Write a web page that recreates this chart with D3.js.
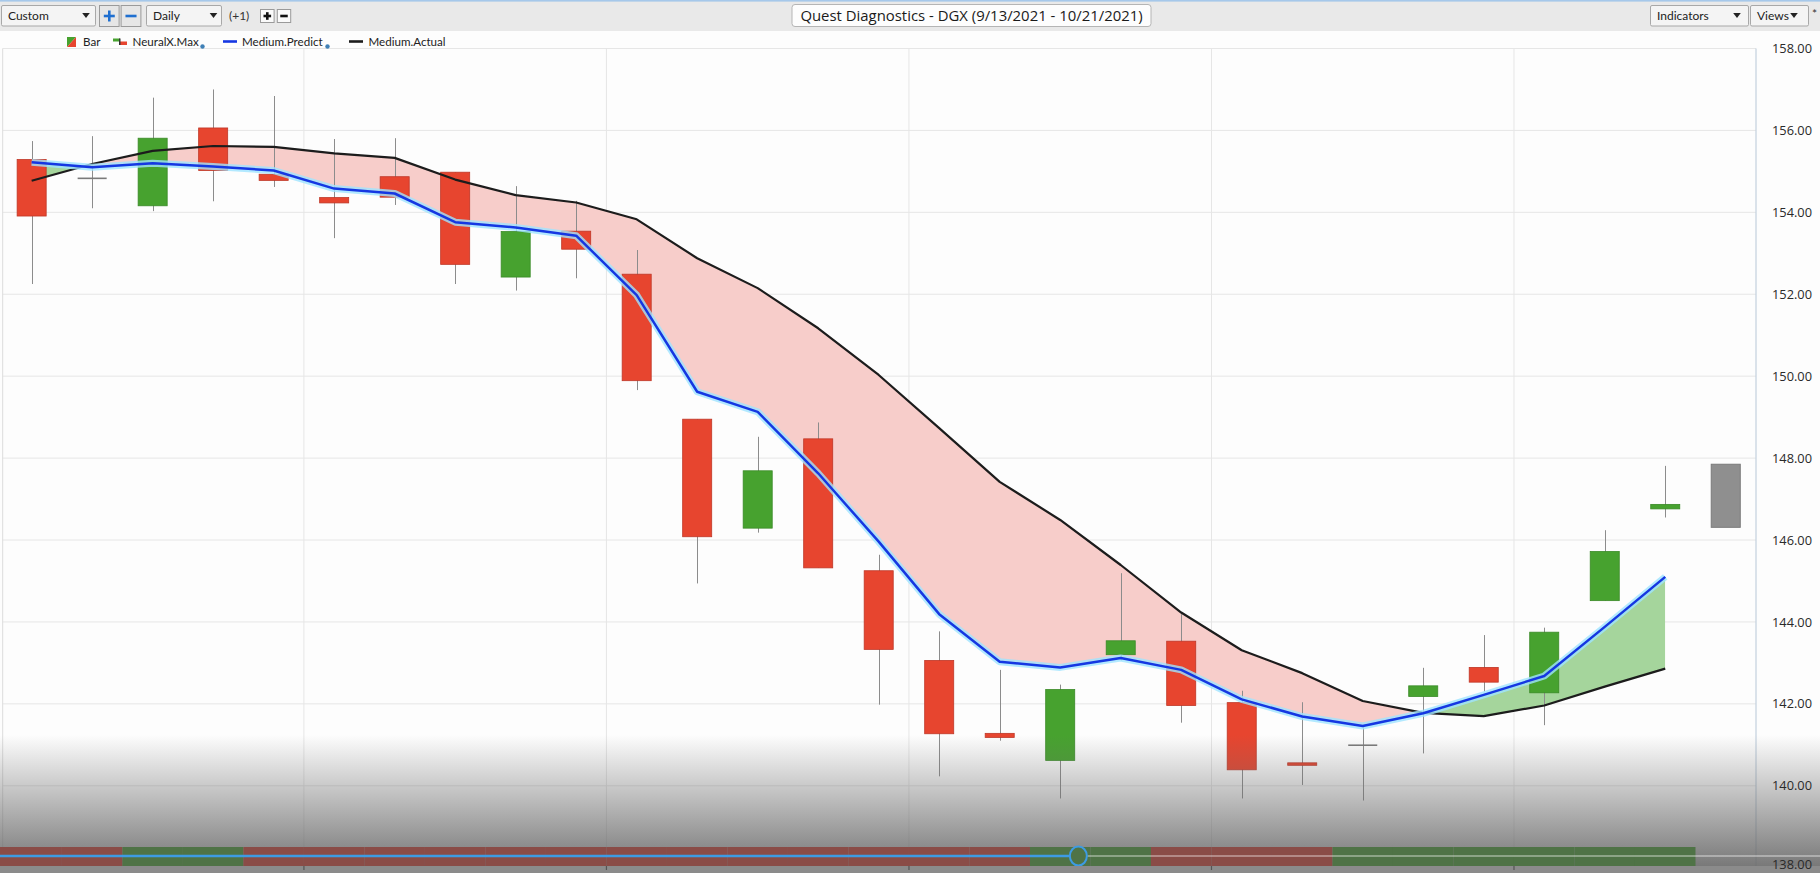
<!DOCTYPE html>
<html><head><meta charset="utf-8">
<script src="https://cdn.jsdelivr.net/npm/d3@7"></script>
<style>
html,body{margin:0;padding:0;background:#fdfdfd;overflow:hidden}
svg{display:block;font-family:Lato,"Open Sans",sans-serif}
</style></head><body>
<svg id="c" width="1820" height="873"></svg>
<script>
// ---------------- data ----------------
const title = "Quest Diagnostics - DGX (9/13/2021 - 10/21/2021)";
const dates = ["2021-09-13","2021-09-14","2021-09-15","2021-09-16","2021-09-17",
  "2021-09-20","2021-09-21","2021-09-22","2021-09-23","2021-09-24",
  "2021-09-27","2021-09-28","2021-09-29","2021-09-30","2021-10-01",
  "2021-10-04","2021-10-05","2021-10-06","2021-10-07","2021-10-08",
  "2021-10-11","2021-10-12","2021-10-13","2021-10-14","2021-10-15",
  "2021-10-18","2021-10-19","2021-10-20","2021-10-21"];
const open  = [155.29,154.83,154.16,156.06,154.93,154.36,154.87,154.98,152.42,153.54,
  152.49,148.95,146.29,148.47,145.25,143.06,141.28,140.62,143.20,143.53,
  142.03,140.56,140.99,142.18,142.89,142.27,144.52,146.76,146.31];
const high  = [155.74,155.86,156.80,157.00,156.84,155.79,155.81,154.98,154.64,154.28,
  153.08,148.95,148.52,148.87,145.64,143.77,142.83,142.47,145.19,144.19,
  142.32,142.04,141.43,142.88,143.68,143.86,146.24,147.81,147.85];
const low   = [152.25,154.10,154.03,154.27,154.62,153.37,154.18,152.25,152.09,152.39,
  149.66,144.94,146.18,145.32,141.98,140.23,141.10,139.69,143.06,141.54,
  139.69,140.02,139.64,140.79,142.30,141.48,144.52,146.55,146.31];
const close = [153.91,154.83,155.81,155.02,154.78,154.23,154.37,152.73,153.53,153.10,
  149.89,146.08,147.69,145.32,143.33,141.27,141.18,142.35,143.54,141.96,
  140.39,140.50,140.99,142.44,142.53,143.75,145.72,146.87,147.85];
const pendingBar = "2021-10-21";           // last bar, still open (drawn grey)
const predict = [155.22,155.10,155.20,155.12,155.02,154.58,154.46,153.76,153.63,153.43,
  151.98,149.62,149.13,147.63,145.96,144.19,143.03,142.89,143.12,142.83,
  142.11,141.69,141.46,141.77,142.22,142.68,143.88,145.10];
const actual  = [154.77,155.18,155.50,155.62,155.60,155.44,155.33,154.80,154.42,154.24,
  153.83,152.88,152.15,151.17,150.03,148.73,147.42,146.49,145.39,144.23,
  143.31,142.75,142.07,141.78,141.70,141.96,142.42,142.86];
const signal  = ["down","down","up","up","down","down","down","down","down","down",
  "down","down","down","down","down","down","down","up","up","down",
  "down","down","up","up","up","up","up","up"];
const yTicks = [138,140,142,144,146,148,150,152,154,156,158];
const legendItems = ["Bar","NeuralX.Max","Medium.Predict","Medium.Actual"];

// ---------------- layout ----------------
const W = 1820, H = 873;
const plot = {left: 1.4, right: 1756, top: 48.5, bottom: 867.7};
const svg = d3.select("#c");
const x = d3.scaleBand().domain(dates).range([plot.left, plot.right]).paddingInner(0).paddingOuter(0);
const y = d3.scaleLinear().domain([138, 158]).range([plot.bottom, plot.top]);
const cx = d => x(d) + x.bandwidth() / 2;
const bodyW = x.bandwidth() * 0.48;

const colors = {
  up: "#47a22f", upStroke: "#3a8a27", down: "#e7452f", downStroke: "#bf3727",
  doji: "#7a7a7a", pending: "#8f8f8f", pendingStroke: "#7b7b7b",
  fillDown: "#f7cdca", fillUp: "#a5d59c", predict: "#1537e2", glow: "#9fe4ff",
  actual: "#1c1c1c", grid: "#e6e6e6", wick: "#8c8c8c"
};

const defs = svg.append("defs");
svg.append("rect").attr("x", 0).attr("y", 0).attr("width", W).attr("height", H).attr("fill", "#fdfdfd");

// grid
const gGrid = svg.append("g");
gGrid.selectAll("line.h").data(yTicks).join("line")
  .attr("x1", 2.7).attr("x2", plot.right).attr("y1", d => y(d)).attr("y2", d => y(d))
  .attr("stroke", colors.grid).attr("stroke-width", 1);
const weekStarts = dates.filter((d, i) => i > 0 && new Date(d + "T12:00:00").getDay() === 1);
gGrid.selectAll("line.v").data(weekStarts).join("line")
  .attr("x1", d => x(d)).attr("x2", d => x(d)).attr("y1", plot.top).attr("y2", 866)
  .attr("stroke", colors.grid).attr("stroke-width", 1);
svg.append("line").attr("x1", 2.7).attr("x2", 2.7).attr("y1", plot.top).attr("y2", 866).attr("stroke", "#dcdcdc");
svg.append("line").attr("x1", plot.right).attr("x2", plot.right).attr("y1", plot.top).attr("y2", 866).attr("stroke", "#c3d1de").attr("stroke-width", 1.2);

// difference fill between predict and actual
const lineData = predict.map((p, i) => ({d: dates[i], p, a: actual[i]}));
defs.append("clipPath").attr("id", "clipAbove").append("path")
  .attr("d", d3.area().x(d => cx(d.d)).y0(0).y1(d => y(d.a))(lineData));
defs.append("clipPath").attr("id", "clipBelow").append("path")
  .attr("d", d3.area().x(d => cx(d.d)).y0(H).y1(d => y(d.a))(lineData));
const band = d3.area().x(d => cx(d.d)).y0(d => y(d.a)).y1(d => y(d.p));
svg.append("path").attr("d", band(lineData)).attr("fill", colors.fillUp).attr("clip-path", "url(#clipAbove)");
svg.append("path").attr("d", band(lineData)).attr("fill", colors.fillDown).attr("clip-path", "url(#clipBelow)");

// candles
const bars = dates.map((d, i) => ({d, o: open[i], h: high[i], l: low[i], c: close[i]}));
const gC = svg.append("g");
gC.selectAll("line.wick").data(bars.filter(b => b.d !== pendingBar)).join("line")
  .attr("x1", b => Math.round(cx(b.d)) + 0.5).attr("x2", b => Math.round(cx(b.d)) + 0.5)
  .attr("y1", b => y(b.h)).attr("y2", b => y(b.l))
  .attr("stroke", colors.wick).attr("stroke-width", 1);
bars.forEach(b => {
  const x0 = cx(b.d) - bodyW / 2;
  if (b.d === pendingBar) {
    gC.append("rect").attr("x", x0).attr("width", bodyW)
      .attr("y", y(Math.max(b.o, b.c))).attr("height", Math.abs(y(b.o) - y(b.c)))
      .attr("fill", colors.pending).attr("stroke", colors.pendingStroke);
  } else if (b.o === b.c) {
    gC.append("line").attr("x1", x0).attr("x2", x0 + bodyW).attr("y1", y(b.o)).attr("y2", y(b.o))
      .attr("stroke", colors.doji).attr("stroke-width", 1.6);
  } else {
    const up = b.c > b.o;
    gC.append("rect").attr("x", x0).attr("width", bodyW)
      .attr("y", y(Math.max(b.o, b.c))).attr("height", Math.max(1.5, Math.abs(y(b.o) - y(b.c))))
      .attr("fill", up ? colors.up : colors.down)
      .attr("stroke", up ? colors.upStroke : colors.downStroke).attr("stroke-width", 0.8);
  }
});

// lines
const lp = d3.line().x(d => cx(d.d)).y(d => y(d.p));
const la = d3.line().x(d => cx(d.d)).y(d => y(d.a));
svg.append("path").attr("d", la(lineData)).attr("fill", "none").attr("stroke", colors.actual).attr("stroke-width", 2.2).attr("stroke-linejoin", "round");
svg.append("path").attr("d", lp(lineData)).attr("fill", "none").attr("stroke", colors.glow).attr("stroke-width", 7).attr("stroke-opacity", 0.8).attr("stroke-linejoin", "round");
svg.append("path").attr("d", lp(lineData)).attr("fill", "none").attr("stroke", colors.predict).attr("stroke-width", 2.5).attr("stroke-linejoin", "round");

// bottom fade
const grad = defs.append("linearGradient").attr("id", "fade").attr("x1", 0).attr("x2", 0).attr("y1", 0).attr("y2", 1);
grad.append("stop").attr("offset", 0).attr("stop-color", "#6a6a6a").attr("stop-opacity", 0);
grad.append("stop").attr("offset", 1).attr("stop-color", "#6a6a6a").attr("stop-opacity", 0.9);
svg.append("rect").attr("x", 0).attr("y", 735).attr("width", W).attr("height", 131).attr("fill", "url(#fade)");

// navigator strip
const gN = svg.append("g");
gN.selectAll("rect").data(signal).join("rect")
  .attr("x", (s, i) => i === 0 ? 0 : x(dates[i]))
  .attr("width", (s, i) => i === 0 ? x(dates[0]) + x.step() : x.step())
  .attr("y", 847).attr("height", 19)
  .attr("fill", s => s === "up" ? "#4f7346" : "#8a4c47");
const handleX = cx(dates[17]) + 0.3 * x.step();
gN.append("line").attr("x1", 0).attr("x2", handleX - 9).attr("y1", 856).attr("y2", 856).attr("stroke", "#3d9be3").attr("stroke-width", 2.4);
gN.append("line").attr("x1", handleX + 9).attr("x2", W).attr("y1", 856).attr("y2", 856).attr("stroke", "#ffffff").attr("stroke-opacity", 0.35).attr("stroke-width", 2);
gN.append("ellipse").attr("cx", handleX).attr("cy", 856).attr("rx", 8.5).attr("ry", 9.5).attr("fill", "none").attr("stroke", "#3d9be3").attr("stroke-width", 2);
gN.append("rect").attr("x", 0).attr("y", 866).attr("width", W).attr("height", 7).attr("fill", "#8b8b8b");
gN.selectAll("line.t").data(weekStarts).join("line")
  .attr("x1", d => x(d)).attr("x2", d => x(d)).attr("y1", 866).attr("y2", 870).attr("stroke", "#555").attr("stroke-width", 1.2);

// y axis
const gA = svg.append("g").attr("transform", `translate(${plot.right},0)`)
  .call(d3.axisRight(y).tickValues(yTicks).tickFormat(d3.format(".2f")).tickSize(0).tickPadding(16));
gA.select(".domain").remove();
gA.selectAll("text").attr("font-family", '"Open Sans","Noto Sans",sans-serif').attr("font-size", 12.8).attr("fill", "#2a2a2a");
gA.selectAll(".tick").filter(d => d === 138).select("text").attr("dy", "0.05em");

// ---------------- toolbar ----------------
const tb = svg.append("g");
tb.append("rect").attr("x", 0).attr("y", 0).attr("width", W).attr("height", 31).attr("fill", "#e9e9e9");
tb.append("rect").attr("x", 0).attr("y", 0).attr("width", W).attr("height", 1.6).attr("fill", "#a6c8ea");
function dropdown(x0, x1, label, arrowX) {
  tb.append("rect").attr("x", x0 + 0.5).attr("y", 5.5).attr("width", x1 - x0).attr("height", 20.5)
    .attr("fill", "#f4f4f4").attr("stroke", "#a8a8a8").attr("rx", 1.5);
  tb.append("text").attr("x", x0 + 7).attr("y", 20.3).attr("font-size", 12).attr("fill", "#222").text(label);
  tb.append("path").attr("d", `M${arrowX - 3.8},${13} L${arrowX + 3.8},${13} L${arrowX},${18} Z`).attr("fill", "#222");
}
dropdown(1, 95, "Custom", 86);
function btn(x0, x1, sign, color, y0, y1, fill) {
  tb.append("rect").attr("x", x0 + 0.5).attr("y", y0 + 0.5).attr("width", x1 - x0).attr("height", y1 - y0)
    .attr("fill", fill).attr("stroke", "#9a9a9a");
  const mx = (x0 + x1) / 2 + 0.5, my = (y0 + y1) / 2 + 0.5, s = (x1 - x0) * 0.28;
  tb.append("line").attr("x1", mx - s).attr("x2", mx + s).attr("y1", my).attr("y2", my).attr("stroke", color).attr("stroke-width", 2.6);
  if (sign === "+") tb.append("line").attr("x1", mx).attr("x2", mx).attr("y1", my - s).attr("y2", my + s).attr("stroke", color).attr("stroke-width", 2.6);
}
btn(99, 118.6, "+", "#1f6fd0", 5, 26, "#e6e6e6");
btn(120.6, 140.4, "-", "#1f6fd0", 5, 26, "#e6e6e6");
dropdown(146, 221, "Daily", 213.5);
tb.append("text").attr("x", 229).attr("y", 20.3).attr("font-size", 12).attr("fill", "#333").text("(+1)");
btn(260, 273.6, "+", "#111", 9, 22, "#fafafa");
btn(276.8, 290.2, "-", "#111", 9, 22, "#fafafa");
tb.append("rect").attr("x", 792).attr("y", 4.5).attr("width", 359).attr("height", 22).attr("rx", 3)
  .attr("fill", "#fdfdfd").attr("stroke", "#b5b5b5");
tb.append("text").attr("x", 971.5).attr("y", 21).attr("text-anchor", "middle")
  .attr("font-family", '"Open Sans","Noto Sans",sans-serif').attr("font-size", 14.9).attr("fill", "#1a1a1a").text(title);
dropdown(1650, 1748, "Indicators", 1737);
dropdown(1750, 1808, "Views", 1794);
tb.append("text").attr("x", 1812).attr("y", 18).attr("font-size", 12).attr("fill", "#333").text("*");

// ---------------- legend ----------------
const lg = svg.append("g").attr("font-size", 11.6).attr("fill", "#222");
lg.append("path").attr("d", "M67,37 L76,37 L67,47 Z").attr("fill", colors.up);
lg.append("path").attr("d", "M76,37 L76,47 L67,47 Z").attr("fill", colors.down);
lg.append("text").attr("x", 83).attr("y", 46).text(legendItems[0]);
lg.append("rect").attr("x", 113).attr("y", 38.5).attr("width", 7).attr("height", 3).attr("fill", colors.up);
lg.append("rect").attr("x", 119).attr("y", 41.5).attr("width", 8).attr("height", 3.5).attr("fill", colors.down);
lg.append("rect").attr("x", 119).attr("y", 38.5).attr("width", 1.5).attr("height", 6.5).attr("fill", "#333");
lg.append("text").attr("x", 132.5).attr("y", 46).text(legendItems[1]);
lg.append("circle").attr("cx", 202.5).attr("cy", 46.5).attr("r", 2.2).attr("fill", "#3f80b6");
lg.append("line").attr("x1", 223).attr("x2", 237).attr("y1", 41.5).attr("y2", 41.5).attr("stroke", colors.predict).attr("stroke-width", 2.6);
lg.append("text").attr("x", 242).attr("y", 46).text(legendItems[2]);
lg.append("circle").attr("cx", 327.5).attr("cy", 46.5).attr("r", 2.2).attr("fill", "#3f80b6");
lg.append("line").attr("x1", 349).attr("x2", 363).attr("y1", 41.5).attr("y2", 41.5).attr("stroke", colors.actual).attr("stroke-width", 2.6);
lg.append("text").attr("x", 368.5).attr("y", 46).text(legendItems[3]);
</script>
</body></html>
